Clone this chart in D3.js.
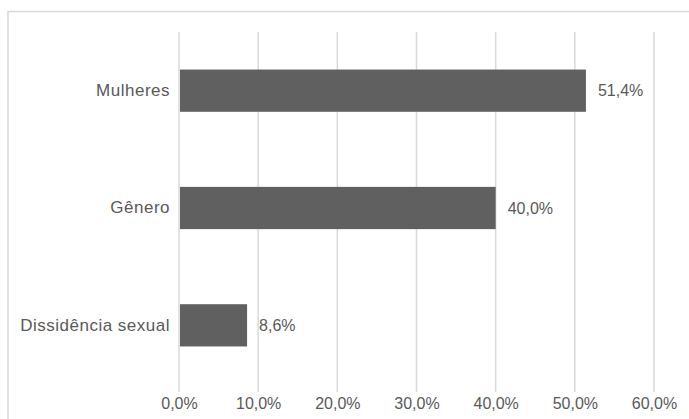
<!DOCTYPE html>
<html><head><meta charset="utf-8">
<script src="https://cdn.jsdelivr.net/npm/d3@7"></script>
<style>body{margin:0;background:#fff;}svg{display:block;}</style>
</head><body>
<svg id="c" width="689" height="419"></svg>
<script>
const categories = ["Mulheres", "Gênero", "Dissidência sexual"];
const values = [51.4, 40.0, 8.6];
const ticks = [0, 10, 20, 30, 40, 50, 60];
const fmt = v => v.toFixed(1).replace(".", ",") + "%";

const svg = d3.select("#c");
const font = "'Liberation Sans', Arial, sans-serif";
const fs = 16;
const txt = "#595959";

svg.append("rect").attr("x", 8).attr("y", 11.5).attr("width", 700).attr("height", 430)
  .attr("fill", "none").attr("stroke", "#d9d9d9").attr("stroke-width", 1.5);

const x = d3.scaleLinear().domain([0, 60]).range([179, 654]);
const y = d3.scaleBand().domain(categories).range([32, 384]).paddingInner(0.64).paddingOuter(0.32);

const g = svg.append("g");
g.selectAll("line.grid").data(ticks).join("line")
  .attr("x1", d => x(d)).attr("x2", d => x(d)).attr("y1", 32).attr("y2", 392)
  .attr("stroke", "#d9d9d9").attr("stroke-width", 1.5);

const xAxis = d3.axisBottom(x).tickValues(ticks).tickFormat(fmt).tickSize(0).tickPadding(0);
const ax = svg.append("g").attr("transform", "translate(0,398)").call(xAxis);
ax.select(".domain").remove();
ax.selectAll("text").attr("fill", txt).style("font-family", font).style("font-size", fs + "px")
  .attr("dy", "0.71em");

const yAxis = d3.axisLeft(y).tickSize(0).tickPadding(0);
const ay = svg.append("g").attr("transform", "translate(170,0)").call(yAxis);
ay.select(".domain").remove();
ay.selectAll("text").attr("fill", txt).style("font-family", font).style("font-size", "17px")
  .style("letter-spacing", "0.5px");

const data = categories.map((c, i) => ({c, v: values[i]}));
svg.selectAll("rect.bar").data(data).join("rect").attr("class", "bar")
  .attr("x", x(0) + 1).attr("y", d => y(d.c)).attr("height", y.bandwidth())
  .attr("width", d => x(d.v) - x(0) - 1).attr("fill", "#606060");

svg.selectAll("text.val").data(data).join("text").attr("class", "val")
  .attr("x", d => x(d.v) + 12).attr("y", d => y(d.c) + y.bandwidth() / 2).attr("dy", "0.35em")
  .attr("fill", txt).style("font-family", font).style("font-size", fs + "px").text(d => fmt(d.v));
</script>
</body></html>
